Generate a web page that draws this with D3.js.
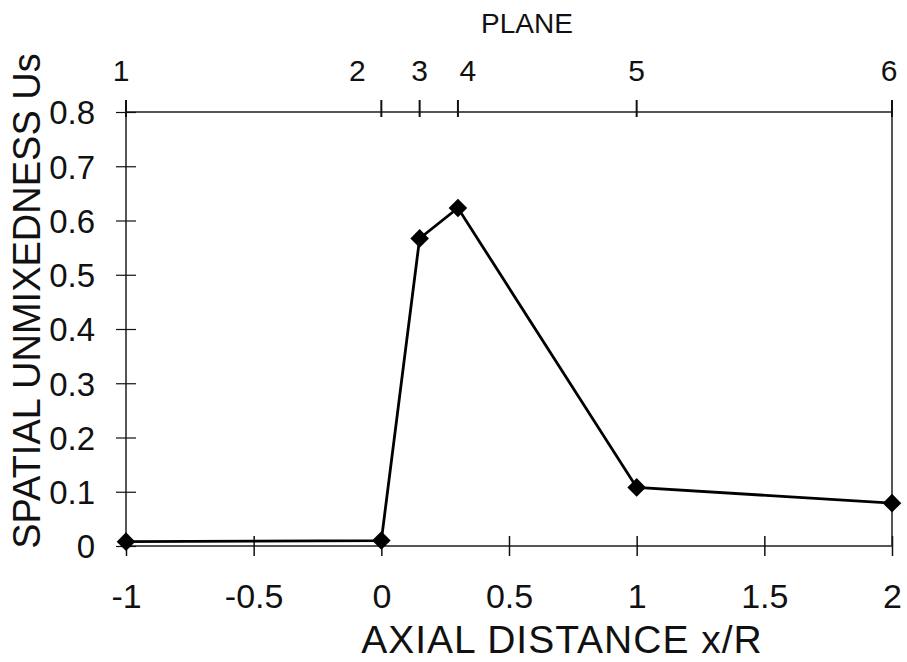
<!DOCTYPE html>
<html>
<head>
<meta charset="utf-8">
<script src="https://cdn.jsdelivr.net/npm/d3@7"></script>
<style>
  body { margin: 0; background: #fff; }
  text { font-family: "Liberation Sans", Arial, sans-serif; fill: #111; }
</style>
</head>
<body>
<svg width="907" height="662"></svg>
<script>
// data
var axialX = [-1, 0, 0.15, 0.3, 1, 2];
var unmixedness = [0.008, 0.01, 0.567, 0.623, 0.108, 0.079];
var planeLabels = ["1", "2", "3", "4", "5", "6"];
var xTicks = [-1, -0.5, 0, 0.5, 1, 1.5, 2];
var yTicks = [0, 0.1, 0.2, 0.3, 0.4, 0.5, 0.6, 0.7, 0.8];

// label nudges so the crowded plane numbers don't overlap
var planeShift = [-5, -24, 0, 10, 0, -3];

var svg = d3.select("svg"),
    margin = {top: 112, right: 15, bottom: 116, left: 126},
    width = 907 - margin.left - margin.right,
    height = 662 - margin.top - margin.bottom,
    g = svg.append("g").attr("transform", "translate(" + margin.left + "," + margin.top + ")");

var x = d3.scaleLinear().domain([-1, 2]).range([0, width]);
var y = d3.scaleLinear().domain([0, 0.8]).range([height, 0]);

var fmt = function(d) { return String(d); };

// frame
g.append("rect")
    .attr("width", width)
    .attr("height", height)
    .attr("fill", "none")
    .attr("stroke", "#444")
    .attr("stroke-width", 1.8);

// bottom axis
var xAxis = g.append("g")
    .attr("transform", "translate(0," + height + ")")
    .call(d3.axisBottom(x).tickValues(xTicks).tickSize(10).tickFormat(fmt));
xAxis.attr("font-size", null).attr("font-family", null);
xAxis.select(".domain").remove();
xAxis.selectAll(".tick line").attr("y1", -10).attr("stroke", "#111").attr("stroke-width", 1.5);
xAxis.selectAll(".tick text")
    .attr("y", 62)
    .attr("dy", 0)
    .style("font-size", "34px");

// left axis
var yAxis = g.append("g")
    .call(d3.axisLeft(y).tickValues(yTicks).tickSize(10).tickFormat(fmt));
yAxis.attr("font-size", null).attr("font-family", null);
yAxis.select(".domain").remove();
yAxis.selectAll(".tick line").attr("x1", 10).attr("stroke", "#111").attr("stroke-width", 1.2);
yAxis.selectAll(".tick text")
    .attr("x", -31)
    .attr("dy", "0.36em")
    .style("font-size", "33px");

// top axis: planes
var planeAxis = g.append("g");
planeAxis.selectAll("line")
    .data(axialX)
  .enter().append("line")
    .attr("x1", function(d) { return x(d); })
    .attr("x2", function(d) { return x(d); })
    .attr("y1", -12)
    .attr("y2", 5)
    .attr("stroke", "#111")
    .attr("stroke-width", 2);
planeAxis.selectAll("text")
    .data(axialX)
  .enter().append("text")
    .attr("x", function(d, i) { return x(d) + planeShift[i]; })
    .attr("y", -31)
    .attr("text-anchor", "middle")
    .style("font-size", "30px")
    .text(function(d, i) { return planeLabels[i]; });

svg.append("text")
    .attr("x", 527)
    .attr("y", 33)
    .attr("text-anchor", "middle")
    .style("font-size", "28px")
    .text("PLANE");

// titles
svg.append("text")
    .attr("x", 562)
    .attr("y", 653)
    .attr("text-anchor", "middle")
    .style("font-size", "39px")
    .style("letter-spacing", "1px")
    .text("AXIAL DISTANCE x/R");

svg.append("text")
    .attr("transform", "translate(40,301) rotate(-90)")
    .attr("text-anchor", "middle")
    .style("font-size", "38px")
    .text("SPATIAL UNMIXEDNESS Us");

// series
var pts = axialX.map(function(d, i) { return [d, unmixedness[i]]; });

var line = d3.line()
    .x(function(d) { return x(d[0]); })
    .y(function(d) { return y(d[1]); });

g.append("path")
    .datum(pts)
    .attr("d", line)
    .attr("fill", "none")
    .attr("stroke", "#000")
    .attr("stroke-width", 2.8);

g.selectAll(".pt")
    .data(pts)
  .enter().append("path")
    .attr("class", "pt")
    .attr("transform", function(d) { return "translate(" + x(d[0]) + "," + y(d[1]) + ")"; })
    .attr("d", d3.symbol().type(d3.symbolDiamond2).size(220))
    .attr("fill", "#000");
</script>
</body>
</html>
